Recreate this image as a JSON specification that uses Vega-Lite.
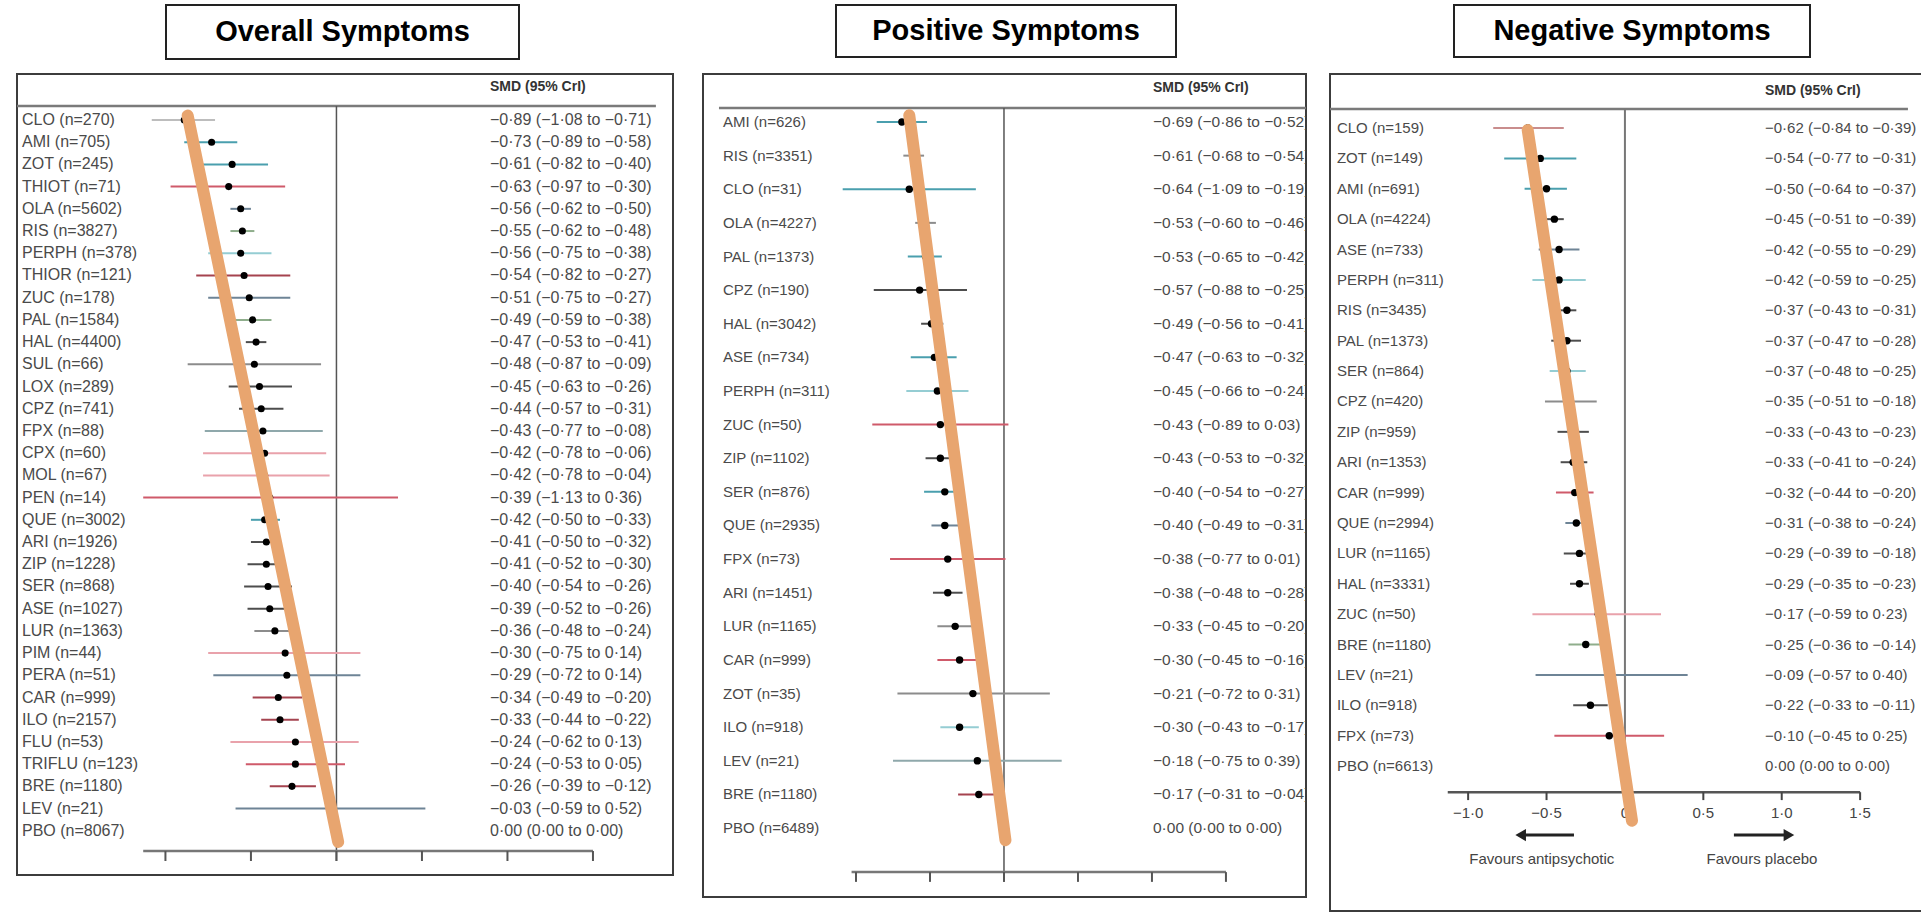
{
  "$schema": "https://vega.github.io/schema/vega-lite/v6.json",
  "background": "white",
  "padding": {"left": 14, "top": 4, "right": 0, "bottom": 0},
  "config": {"font": "Liberation Sans", "view": {"stroke": null}},
  "resolve": {"scale": {"x": "independent", "y": "independent"}},
  "spacing": 13,
  "datasets": {
    "blank": [{}],
    "overall": [
      {"rank": 0, "label": "CLO (n=270)", "smd": -0.89, "lo": -1.08, "hi": -0.71, "ci": "−0·89 (−1·08 to −0·71)", "col": "lightgrey"},
      {"rank": 1, "label": "AMI (n=705)", "smd": -0.73, "lo": -0.89, "hi": -0.58, "ci": "−0·73 (−0·89 to −0·58)", "col": "teal"},
      {"rank": 2, "label": "ZOT (n=245)", "smd": -0.61, "lo": -0.82, "hi": -0.40, "ci": "−0·61 (−0·82 to −0·40)", "col": "teal"},
      {"rank": 3, "label": "THIOT (n=71)", "smd": -0.63, "lo": -0.97, "hi": -0.30, "ci": "−0·63 (−0·97 to −0·30)", "col": "red"},
      {"rank": 4, "label": "OLA (n=5602)", "smd": -0.56, "lo": -0.62, "hi": -0.50, "ci": "−0·56 (−0·62 to −0·50)", "col": "slate"},
      {"rank": 5, "label": "RIS (n=3827)", "smd": -0.55, "lo": -0.62, "hi": -0.48, "ci": "−0·55 (−0·62 to −0·48)", "col": "green"},
      {"rank": 6, "label": "PERPH (n=378)", "smd": -0.56, "lo": -0.75, "hi": -0.38, "ci": "−0·56 (−0·75 to −0·38)", "col": "lightteal"},
      {"rank": 7, "label": "THIOR (n=121)", "smd": -0.54, "lo": -0.82, "hi": -0.27, "ci": "−0·54 (−0·82 to −0·27)", "col": "darkred"},
      {"rank": 8, "label": "ZUC (n=178)", "smd": -0.51, "lo": -0.75, "hi": -0.27, "ci": "−0·51 (−0·75 to −0·27)", "col": "slate"},
      {"rank": 9, "label": "PAL (n=1584)", "smd": -0.49, "lo": -0.59, "hi": -0.38, "ci": "−0·49 (−0·59 to −0·38)", "col": "green"},
      {"rank": 10, "label": "HAL (n=4400)", "smd": -0.47, "lo": -0.53, "hi": -0.41, "ci": "−0·47 (−0·53 to −0·41)", "col": "dark"},
      {"rank": 11, "label": "SUL (n=66)", "smd": -0.48, "lo": -0.87, "hi": -0.09, "ci": "−0·48 (−0·87 to −0·09)", "col": "midgrey"},
      {"rank": 12, "label": "LOX (n=289)", "smd": -0.45, "lo": -0.63, "hi": -0.26, "ci": "−0·45 (−0·63 to −0·26)", "col": "dark"},
      {"rank": 13, "label": "CPZ (n=741)", "smd": -0.44, "lo": -0.57, "hi": -0.31, "ci": "−0·44 (−0·57 to −0·31)", "col": "dark"},
      {"rank": 14, "label": "FPX (n=88)", "smd": -0.43, "lo": -0.77, "hi": -0.08, "ci": "−0·43 (−0·77 to −0·08)", "col": "greyteal"},
      {"rank": 15, "label": "CPX (n=60)", "smd": -0.42, "lo": -0.78, "hi": -0.06, "ci": "−0·42 (−0·78 to −0·06)", "col": "pink"},
      {"rank": 16, "label": "MOL (n=67)", "smd": -0.42, "lo": -0.78, "hi": -0.04, "ci": "−0·42 (−0·78 to −0·04)", "col": "pink"},
      {"rank": 17, "label": "PEN (n=14)", "smd": -0.39, "lo": -1.13, "hi": 0.36, "ci": "−0·39 (−1·13 to 0·36)", "col": "red"},
      {"rank": 18, "label": "QUE (n=3002)", "smd": -0.42, "lo": -0.50, "hi": -0.33, "ci": "−0·42 (−0·50 to −0·33)", "col": "teal"},
      {"rank": 19, "label": "ARI (n=1926)", "smd": -0.41, "lo": -0.50, "hi": -0.32, "ci": "−0·41 (−0·50 to −0·32)", "col": "dark"},
      {"rank": 20, "label": "ZIP (n=1228)", "smd": -0.41, "lo": -0.52, "hi": -0.30, "ci": "−0·41 (−0·52 to −0·30)", "col": "dark"},
      {"rank": 21, "label": "SER (n=868)", "smd": -0.40, "lo": -0.54, "hi": -0.26, "ci": "−0·40 (−0·54 to −0·26)", "col": "dark"},
      {"rank": 22, "label": "ASE (n=1027)", "smd": -0.39, "lo": -0.52, "hi": -0.26, "ci": "−0·39 (−0·52 to −0·26)", "col": "dark"},
      {"rank": 23, "label": "LUR (n=1363)", "smd": -0.36, "lo": -0.48, "hi": -0.24, "ci": "−0·36 (−0·48 to −0·24)", "col": "midgrey"},
      {"rank": 24, "label": "PIM (n=44)", "smd": -0.30, "lo": -0.75, "hi": 0.14, "ci": "−0·30 (−0·75 to 0·14)", "col": "pink"},
      {"rank": 25, "label": "PERA (n=51)", "smd": -0.29, "lo": -0.72, "hi": 0.14, "ci": "−0·29 (−0·72 to 0·14)", "col": "slate"},
      {"rank": 26, "label": "CAR (n=999)", "smd": -0.34, "lo": -0.49, "hi": -0.20, "ci": "−0·34 (−0·49 to −0·20)", "col": "darkred"},
      {"rank": 27, "label": "ILO (n=2157)", "smd": -0.33, "lo": -0.44, "hi": -0.22, "ci": "−0·33 (−0·44 to −0·22)", "col": "darkred"},
      {"rank": 28, "label": "FLU (n=53)", "smd": -0.24, "lo": -0.62, "hi": 0.13, "ci": "−0·24 (−0·62 to 0·13)", "col": "pink"},
      {"rank": 29, "label": "TRIFLU (n=123)", "smd": -0.24, "lo": -0.53, "hi": 0.05, "ci": "−0·24 (−0·53 to 0·05)", "col": "red"},
      {"rank": 30, "label": "BRE (n=1180)", "smd": -0.26, "lo": -0.39, "hi": -0.12, "ci": "−0·26 (−0·39 to −0·12)", "col": "darkred"},
      {"rank": 31, "label": "LEV (n=21)", "smd": -0.03, "lo": -0.59, "hi": 0.52, "ci": "−0·03 (−0·59 to 0·52)", "col": "slate"},
      {"rank": 32, "label": "PBO (n=8067)", "smd": 0, "lo": null, "hi": null, "ci": " 0·00 (0·00 to 0·00)", "col": "dark"}
    ],
    "positive": [
      {"rank": 0, "label": "AMI (n=626)", "smd": -0.69, "lo": -0.86, "hi": -0.52, "ci": "−0·69 (−0·86 to −0·52)", "col": "teal"},
      {"rank": 1, "label": "RIS (n=3351)", "smd": -0.61, "lo": -0.68, "hi": -0.54, "ci": "−0·61 (−0·68 to −0·54)", "col": "midgrey"},
      {"rank": 2, "label": "CLO (n=31)", "smd": -0.64, "lo": -1.09, "hi": -0.19, "ci": "−0·64 (−1·09 to −0·19)", "col": "teal"},
      {"rank": 3, "label": "OLA (n=4227)", "smd": -0.53, "lo": -0.60, "hi": -0.46, "ci": "−0·53 (−0·60 to −0·46)", "col": "midgrey"},
      {"rank": 4, "label": "PAL (n=1373)", "smd": -0.53, "lo": -0.65, "hi": -0.42, "ci": "−0·53 (−0·65 to −0·42)", "col": "teal"},
      {"rank": 5, "label": "CPZ (n=190)", "smd": -0.57, "lo": -0.88, "hi": -0.25, "ci": "−0·57 (−0·88 to −0·25)", "col": "dark"},
      {"rank": 6, "label": "HAL (n=3042)", "smd": -0.49, "lo": -0.56, "hi": -0.41, "ci": "−0·49 (−0·56 to −0·41)", "col": "dark"},
      {"rank": 7, "label": "ASE (n=734)", "smd": -0.47, "lo": -0.63, "hi": -0.32, "ci": "−0·47 (−0·63 to −0·32)", "col": "teal"},
      {"rank": 8, "label": "PERPH (n=311)", "smd": -0.45, "lo": -0.66, "hi": -0.24, "ci": "−0·45 (−0·66 to −0·24)", "col": "lightteal"},
      {"rank": 9, "label": "ZUC (n=50)", "smd": -0.43, "lo": -0.89, "hi": 0.03, "ci": "−0·43 (−0·89 to 0·03)", "col": "red"},
      {"rank": 10, "label": "ZIP (n=1102)", "smd": -0.43, "lo": -0.53, "hi": -0.32, "ci": "−0·43 (−0·53 to −0·32)", "col": "dark"},
      {"rank": 11, "label": "SER (n=876)", "smd": -0.40, "lo": -0.54, "hi": -0.27, "ci": "−0·40 (−0·54 to −0·27)", "col": "teal"},
      {"rank": 12, "label": "QUE (n=2935)", "smd": -0.40, "lo": -0.49, "hi": -0.31, "ci": "−0·40 (−0·49 to −0·31)", "col": "slate"},
      {"rank": 13, "label": "FPX (n=73)", "smd": -0.38, "lo": -0.77, "hi": 0.01, "ci": "−0·38 (−0·77 to 0·01)", "col": "red"},
      {"rank": 14, "label": "ARI (n=1451)", "smd": -0.38, "lo": -0.48, "hi": -0.28, "ci": "−0·38 (−0·48 to −0·28)", "col": "dark"},
      {"rank": 15, "label": "LUR (n=1165)", "smd": -0.33, "lo": -0.45, "hi": -0.20, "ci": "−0·33 (−0·45 to −0·20)", "col": "midgrey"},
      {"rank": 16, "label": "CAR (n=999)", "smd": -0.30, "lo": -0.45, "hi": -0.16, "ci": "−0·30 (−0·45 to −0·16)", "col": "red"},
      {"rank": 17, "label": "ZOT (n=35)", "smd": -0.21, "lo": -0.72, "hi": 0.31, "ci": "−0·21 (−0·72 to 0·31)", "col": "midgrey"},
      {"rank": 18, "label": "ILO (n=918)", "smd": -0.30, "lo": -0.43, "hi": -0.17, "ci": "−0·30 (−0·43 to −0·17)", "col": "lightteal"},
      {"rank": 19, "label": "LEV (n=21)", "smd": -0.18, "lo": -0.75, "hi": 0.39, "ci": "−0·18 (−0·75 to 0·39)", "col": "greyteal"},
      {"rank": 20, "label": "BRE (n=1180)", "smd": -0.17, "lo": -0.31, "hi": -0.04, "ci": "−0·17 (−0·31 to −0·04)", "col": "darkred"},
      {"rank": 21, "label": "PBO (n=6489)", "smd": 0, "lo": null, "hi": null, "ci": " 0·00 (0·00 to 0·00)", "col": "dark"}
    ],
    "negative": [
      {"rank": 0, "label": "CLO (n=159)", "smd": -0.62, "lo": -0.84, "hi": -0.39, "ci": "−0·62 (−0·84 to −0·39)", "col": "rose"},
      {"rank": 1, "label": "ZOT (n=149)", "smd": -0.54, "lo": -0.77, "hi": -0.31, "ci": "−0·54 (−0·77 to −0·31)", "col": "teal"},
      {"rank": 2, "label": "AMI (n=691)", "smd": -0.50, "lo": -0.64, "hi": -0.37, "ci": "−0·50 (−0·64 to −0·37)", "col": "teal"},
      {"rank": 3, "label": "OLA (n=4224)", "smd": -0.45, "lo": -0.51, "hi": -0.39, "ci": "−0·45 (−0·51 to −0·39)", "col": "dark"},
      {"rank": 4, "label": "ASE (n=733)", "smd": -0.42, "lo": -0.55, "hi": -0.29, "ci": "−0·42 (−0·55 to −0·29)", "col": "slate"},
      {"rank": 5, "label": "PERPH (n=311)", "smd": -0.42, "lo": -0.59, "hi": -0.25, "ci": "−0·42 (−0·59 to −0·25)", "col": "lightteal"},
      {"rank": 6, "label": "RIS (n=3435)", "smd": -0.37, "lo": -0.43, "hi": -0.31, "ci": "−0·37 (−0·43 to −0·31)", "col": "dark"},
      {"rank": 7, "label": "PAL (n=1373)", "smd": -0.37, "lo": -0.47, "hi": -0.28, "ci": "−0·37 (−0·47 to −0·28)", "col": "dark"},
      {"rank": 8, "label": "SER (n=864)", "smd": -0.37, "lo": -0.48, "hi": -0.25, "ci": "−0·37 (−0·48 to −0·25)", "col": "lightteal"},
      {"rank": 9, "label": "CPZ (n=420)", "smd": -0.35, "lo": -0.51, "hi": -0.18, "ci": "−0·35 (−0·51 to −0·18)", "col": "midgrey"},
      {"rank": 10, "label": "ZIP (n=959)", "smd": -0.33, "lo": -0.43, "hi": -0.23, "ci": "−0·33 (−0·43 to −0·23)", "col": "dark"},
      {"rank": 11, "label": "ARI (n=1353)", "smd": -0.33, "lo": -0.41, "hi": -0.24, "ci": "−0·33 (−0·41 to −0·24)", "col": "dark"},
      {"rank": 12, "label": "CAR (n=999)", "smd": -0.32, "lo": -0.44, "hi": -0.20, "ci": "−0·32 (−0·44 to −0·20)", "col": "red"},
      {"rank": 13, "label": "QUE (n=2994)", "smd": -0.31, "lo": -0.38, "hi": -0.24, "ci": "−0·31 (−0·38 to −0·24)", "col": "slate"},
      {"rank": 14, "label": "LUR (n=1165)", "smd": -0.29, "lo": -0.39, "hi": -0.18, "ci": "−0·29 (−0·39 to −0·18)", "col": "dark"},
      {"rank": 15, "label": "HAL (n=3331)", "smd": -0.29, "lo": -0.35, "hi": -0.23, "ci": "−0·29 (−0·35 to −0·23)", "col": "dark"},
      {"rank": 16, "label": "ZUC (n=50)", "smd": -0.17, "lo": -0.59, "hi": 0.23, "ci": "−0·17 (−0·59 to 0·23)", "col": "pink"},
      {"rank": 17, "label": "BRE (n=1180)", "smd": -0.25, "lo": -0.36, "hi": -0.14, "ci": "−0·25 (−0·36 to −0·14)", "col": "green"},
      {"rank": 18, "label": "LEV (n=21)", "smd": -0.09, "lo": -0.57, "hi": 0.40, "ci": "−0·09 (−0·57 to 0·40)", "col": "slate"},
      {"rank": 19, "label": "ILO (n=918)", "smd": -0.22, "lo": -0.33, "hi": -0.11, "ci": "−0·22 (−0·33 to −0·11)", "col": "dark"},
      {"rank": 20, "label": "FPX (n=73)", "smd": -0.10, "lo": -0.45, "hi": 0.25, "ci": "−0·10 (−0·45 to 0·25)", "col": "red"},
      {"rank": 21, "label": "PBO (n=6613)", "smd": 0, "lo": null, "hi": null, "ci": " 0·00 (0·00 to 0·00)", "col": "dark"}
    ],
    "ticks": [
      {"t": -1, "lab": "−1·0"}, {"t": -0.5, "lab": "−0·5"}, {"t": 0, "lab": "0"},
      {"t": 0.5, "lab": "0·5"}, {"t": 1, "lab": "1·0"}, {"t": 1.5, "lab": "1·5"}
    ],
    "trend1": [{"smd": -0.87, "rank": -0.2}, {"smd": 0.01, "rank": 32.5}],
    "trend2": [{"smd": -0.64, "rank": -0.2}, {"smd": 0.01, "rank": 21.36}],
    "trend3": [{"smd": -0.62, "rank": 0.07}, {"smd": 0.045, "rank": 22.8}]
  },
  "vconcat": [
    {
      "bounds": "flush",
      "spacing": 0,
      "hconcat": [
        {"width": 149, "height": 54, "data": {"name": "blank"}, "mark": {"type": "text"}, "encoding": {"text": {"value": ""}}},
        {
          "width": 353, "height": 54,
          "view": {"stroke": "#222222", "strokeWidth": 2},
          "data": {"values": [{"t": "Overall Symptoms"}]},
          "mark": {"type": "text", "fontSize": 29, "fontWeight": "bold", "color": "black", "align": "center", "baseline": "middle"},
          "encoding": {"text": {"field": "t"}}
        },
        {"width": 317, "height": 52, "data": {"name": "blank"}, "mark": {"type": "text"}, "encoding": {"text": {"value": ""}}},
        {
          "width": 340, "height": 52,
          "view": {"stroke": "#222222", "strokeWidth": 2},
          "data": {"values": [{"t": "Positive Symptoms"}]},
          "mark": {"type": "text", "fontSize": 29, "fontWeight": "bold", "color": "black", "align": "center", "baseline": "middle"},
          "encoding": {"text": {"field": "t"}}
        },
        {"width": 278, "height": 52, "data": {"name": "blank"}, "mark": {"type": "text"}, "encoding": {"text": {"value": ""}}},
        {
          "width": 356, "height": 52,
          "view": {"stroke": "#222222", "strokeWidth": 2},
          "data": {"values": [{"t": "Negative Symptoms"}]},
          "mark": {"type": "text", "fontSize": 29, "fontWeight": "bold", "color": "black", "align": "center", "baseline": "middle"},
          "encoding": {"text": {"field": "t"}}
        }
      ]
    },
    {
      "bounds": "flush",
      "spacing": 0,
      "hconcat": [
        {
          "width": 656, "height": 801,
          "view": {"stroke": "#3c3c3c", "strokeWidth": 2},
          "layer": [
            {
              "data": {"name": "blank"},
              "mark": {"type": "rule", "color": "#7a7a7a", "strokeWidth": 2.5},
              "encoding": {
                "x": {"datum": -1.868, "type": "quantitative", "scale": {"domain": [-1.868, 1.968], "nice": false, "zero": false}, "axis": null},
                "x2": {"datum": 1.868},
                "y": {"datum": -0.63, "type": "quantitative", "scale": {"domain": [-2.07, 33.99], "reverse": true, "nice": false, "zero": false}, "axis": null}
              }
            },
            {
              "data": {"name": "blank"},
              "mark": {"type": "rule", "color": "#555555", "strokeWidth": 1.5},
              "encoding": {
                "x": {"datum": 0, "type": "quantitative"},
                "y": {"datum": -0.63, "type": "quantitative"},
                "y2": {"datum": 33.36}
              }
            },
            {
              "data": {"name": "blank"},
              "mark": {"type": "rule", "color": "#777777", "strokeWidth": 2.5},
              "encoding": {
                "x": {"datum": -1.13, "type": "quantitative"},
                "x2": {"datum": 1.5},
                "y": {"datum": 32.91, "type": "quantitative"}
              }
            },
            {
              "data": {"name": "ticks"},
              "mark": {"type": "rule", "color": "#555555", "strokeWidth": 2},
              "encoding": {
                "x": {"field": "t", "type": "quantitative"},
                "y": {"datum": 32.91, "type": "quantitative"},
                "y2": {"datum": 33.36}
              }
            },
            {
              "data": {"name": "overall"},
              "transform": [{"filter": "isValid(datum.lo)"}],
              "mark": {"type": "rule", "strokeWidth": 2},
              "encoding": {
                "x": {"field": "lo", "type": "quantitative"},
                "x2": {"field": "hi"},
                "y": {"field": "rank", "type": "quantitative"},
                "color": {"field": "col", "type": "nominal", "legend": null,
                  "scale": {"domain": ["lightgrey", "teal", "lightteal", "red", "darkred", "pink", "dark", "midgrey", "slate", "green", "greyteal", "rose"],
                            "range": ["#bdbdbd", "#4a9fae", "#95cdd3", "#cf5a6a", "#a5434f", "#e9a2ab", "#4d4d4d", "#8c8c8c", "#6e8496", "#8fae8c", "#8fa8ab", "#c98d8d"]}}
              }
            },
            {
              "data": {"name": "overall"},
              "transform": [{"filter": "isValid(datum.lo)"}],
              "mark": {"type": "circle", "color": "black", "opacity": 1, "size": 50},
              "encoding": {
                "x": {"field": "smd", "type": "quantitative"},
                "y": {"field": "rank", "type": "quantitative"}
              }
            },
            {
              "data": {"name": "overall"},
              "mark": {"type": "text", "align": "left", "baseline": "middle", "fontSize": 16, "color": "#4a4a4a"},
              "encoding": {
                "x": {"datum": -1.839, "type": "quantitative"},
                "y": {"field": "rank", "type": "quantitative"},
                "text": {"field": "label"}
              }
            },
            {
              "data": {"name": "overall"},
              "mark": {"type": "text", "align": "left", "baseline": "middle", "fontSize": 16, "color": "#4a4a4a"},
              "encoding": {
                "x": {"datum": 0.898, "type": "quantitative"},
                "y": {"field": "rank", "type": "quantitative"},
                "text": {"field": "ci"}
              }
            },
            {
              "data": {"name": "blank"},
              "mark": {"type": "text", "align": "left", "baseline": "middle", "fontSize": 14, "fontWeight": "bold", "color": "#333333"},
              "encoding": {
                "x": {"datum": 0.898, "type": "quantitative"},
                "y": {"datum": -1.49, "type": "quantitative"},
                "text": {"value": "SMD (95% CrI)"}
              }
            },
            {
              "data": {"name": "trend1"},
              "mark": {"type": "line", "color": "#E8A56F", "strokeWidth": 12, "strokeCap": "round"},
              "encoding": {
                "x": {"field": "smd", "type": "quantitative"},
                "y": {"field": "rank", "type": "quantitative"}
              }
            }
          ]
        },
        {"width": 30, "height": 801, "data": {"name": "blank"}, "mark": {"type": "text"}, "encoding": {"text": {"value": ""}}},
        {
          "width": 603, "height": 823,
          "view": {"stroke": "#3c3c3c", "strokeWidth": 2},
          "layer": [
            {
              "data": {"name": "blank"},
              "mark": {"type": "rule", "color": "#7a7a7a", "strokeWidth": 2.5},
              "encoding": {
                "x": {"datum": -1.926, "type": "quantitative", "scale": {"domain": [-2.034, 2.041], "nice": false, "zero": false}, "axis": null},
                "x2": {"datum": 2.041},
                "y": {"datum": -0.42, "type": "quantitative", "scale": {"domain": [-1.428, 23.05], "reverse": true, "nice": false, "zero": false}, "axis": null}
              }
            },
            {
              "data": {"name": "blank"},
              "mark": {"type": "rule", "color": "#555555", "strokeWidth": 1.5},
              "encoding": {
                "x": {"datum": 0, "type": "quantitative"},
                "y": {"datum": -0.42, "type": "quantitative"},
                "y2": {"datum": 22.6}
              }
            },
            {
              "data": {"name": "blank"},
              "mark": {"type": "rule", "color": "#777777", "strokeWidth": 2.5},
              "encoding": {
                "x": {"datum": -1.03, "type": "quantitative"},
                "x2": {"datum": 1.5},
                "y": {"datum": 22.31, "type": "quantitative"}
              }
            },
            {
              "data": {"name": "ticks"},
              "mark": {"type": "rule", "color": "#555555", "strokeWidth": 2},
              "encoding": {
                "x": {"field": "t", "type": "quantitative"},
                "y": {"datum": 22.31, "type": "quantitative"},
                "y2": {"datum": 22.6}
              }
            },
            {
              "data": {"name": "positive"},
              "transform": [{"filter": "isValid(datum.lo)"}],
              "mark": {"type": "rule", "strokeWidth": 2},
              "encoding": {
                "x": {"field": "lo", "type": "quantitative"},
                "x2": {"field": "hi"},
                "y": {"field": "rank", "type": "quantitative"},
                "color": {"field": "col", "type": "nominal", "legend": null}
              }
            },
            {
              "data": {"name": "positive"},
              "transform": [{"filter": "isValid(datum.lo)"}],
              "mark": {"type": "circle", "color": "black", "opacity": 1, "size": 55},
              "encoding": {
                "x": {"field": "smd", "type": "quantitative"},
                "y": {"field": "rank", "type": "quantitative"}
              }
            },
            {
              "data": {"name": "positive"},
              "mark": {"type": "text", "align": "left", "baseline": "middle", "fontSize": 15, "color": "#4a4a4a"},
              "encoding": {
                "x": {"datum": -1.899, "type": "quantitative"},
                "y": {"field": "rank", "type": "quantitative"},
                "text": {"field": "label"}
              }
            },
            {
              "data": {"name": "positive"},
              "mark": {"type": "text", "align": "left", "baseline": "middle", "fontSize": 15.5, "color": "#4a4a4a", "clip": true},
              "encoding": {
                "x": {"datum": 1.007, "type": "quantitative"},
                "y": {"field": "rank", "type": "quantitative"},
                "text": {"field": "ci"}
              }
            },
            {
              "data": {"name": "blank"},
              "mark": {"type": "text", "align": "left", "baseline": "middle", "fontSize": 14, "fontWeight": "bold", "color": "#333333"},
              "encoding": {
                "x": {"datum": 1.007, "type": "quantitative"},
                "y": {"datum": -1.01, "type": "quantitative"},
                "text": {"value": "SMD (95% CrI)"}
              }
            },
            {
              "data": {"name": "trend2"},
              "mark": {"type": "line", "color": "#E8A56F", "strokeWidth": 12, "strokeCap": "round"},
              "encoding": {
                "x": {"field": "smd", "type": "quantitative"},
                "y": {"field": "rank", "type": "quantitative"}
              }
            }
          ]
        },
        {"width": 24, "height": 801, "data": {"name": "blank"}, "mark": {"type": "text"}, "encoding": {"text": {"value": ""}}},
        {
          "width": 593, "height": 837,
          "view": {"stroke": "#3c3c3c", "strokeWidth": 2},
          "layer": [
            {
              "data": {"name": "blank"},
              "mark": {"type": "rule", "color": "#7a7a7a", "strokeWidth": 2.5},
              "encoding": {
                "x": {"datum": -1.881, "type": "quantitative", "scale": {"domain": [-1.881, 1.901], "nice": false, "zero": false}, "axis": null},
                "x2": {"datum": 1.805},
                "y": {"datum": -0.625, "type": "quantitative", "scale": {"domain": [-1.777, 25.77], "reverse": true, "nice": false, "zero": false}, "axis": null}
              }
            },
            {
              "data": {"name": "blank"},
              "mark": {"type": "rule", "color": "#777777", "strokeWidth": 2},
              "encoding": {
                "x": {"datum": 0, "type": "quantitative"},
                "y": {"datum": -0.625, "type": "quantitative"},
                "y2": {"datum": 22.12}
              }
            },
            {
              "data": {"name": "blank"},
              "mark": {"type": "rule", "color": "#555555", "strokeWidth": 2.5},
              "encoding": {
                "x": {"datum": -1.13, "type": "quantitative"},
                "x2": {"datum": 1.5},
                "y": {"datum": 21.86, "type": "quantitative"}
              }
            },
            {
              "data": {"name": "ticks"},
              "mark": {"type": "rule", "color": "#444444", "strokeWidth": 2},
              "encoding": {
                "x": {"field": "t", "type": "quantitative"},
                "y": {"datum": 21.86, "type": "quantitative"},
                "y2": {"datum": 22.12}
              }
            },
            {
              "data": {"name": "ticks"},
              "mark": {"type": "text", "align": "center", "baseline": "middle", "fontSize": 15, "color": "#444444"},
              "encoding": {
                "x": {"field": "t", "type": "quantitative"},
                "y": {"datum": 22.55, "type": "quantitative"},
                "text": {"field": "lab"}
              }
            },
            {
              "data": {"name": "blank"},
              "mark": {"type": "rule", "color": "#222222", "strokeWidth": 3},
              "encoding": {
                "x": {"datum": -0.66, "type": "quantitative"},
                "x2": {"datum": -0.325},
                "y": {"datum": 23.27, "type": "quantitative"}
              }
            },
            {
              "data": {"name": "blank"},
              "mark": {"type": "point", "shape": "triangle-left", "filled": true, "color": "#222222", "opacity": 1, "size": 150},
              "encoding": {
                "x": {"datum": -0.665, "type": "quantitative"},
                "y": {"datum": 23.27, "type": "quantitative"}
              }
            },
            {
              "data": {"name": "blank"},
              "mark": {"type": "rule", "color": "#222222", "strokeWidth": 3},
              "encoding": {
                "x": {"datum": 0.695, "type": "quantitative"},
                "x2": {"datum": 1.04},
                "y": {"datum": 23.27, "type": "quantitative"}
              }
            },
            {
              "data": {"name": "blank"},
              "mark": {"type": "point", "shape": "triangle-right", "filled": true, "color": "#222222", "opacity": 1, "size": 150},
              "encoding": {
                "x": {"datum": 1.046, "type": "quantitative"},
                "y": {"datum": 23.27, "type": "quantitative"}
              }
            },
            {
              "data": {"values": [{"t": "Favours antipsychotic", "p": -0.53}, {"t": "Favours placebo", "p": 0.874}]},
              "mark": {"type": "text", "align": "center", "baseline": "middle", "fontSize": 15, "color": "#444444"},
              "encoding": {
                "x": {"field": "p", "type": "quantitative"},
                "y": {"datum": 24.06, "type": "quantitative"},
                "text": {"field": "t"}
              }
            },
            {
              "data": {"name": "negative"},
              "transform": [{"filter": "isValid(datum.lo)"}],
              "mark": {"type": "rule", "strokeWidth": 2},
              "encoding": {
                "x": {"field": "lo", "type": "quantitative"},
                "x2": {"field": "hi"},
                "y": {"field": "rank", "type": "quantitative"},
                "color": {"field": "col", "type": "nominal", "legend": null}
              }
            },
            {
              "data": {"name": "negative"},
              "transform": [{"filter": "isValid(datum.lo)"}],
              "mark": {"type": "circle", "color": "black", "opacity": 1, "size": 55},
              "encoding": {
                "x": {"field": "smd", "type": "quantitative"},
                "y": {"field": "rank", "type": "quantitative"}
              }
            },
            {
              "data": {"name": "negative"},
              "mark": {"type": "text", "align": "left", "baseline": "middle", "fontSize": 15, "color": "#4a4a4a"},
              "encoding": {
                "x": {"datum": -1.837, "type": "quantitative"},
                "y": {"field": "rank", "type": "quantitative"},
                "text": {"field": "label"}
              }
            },
            {
              "data": {"name": "negative"},
              "mark": {"type": "text", "align": "left", "baseline": "middle", "fontSize": 15, "color": "#4a4a4a"},
              "encoding": {
                "x": {"datum": 0.893, "type": "quantitative"},
                "y": {"field": "rank", "type": "quantitative"},
                "text": {"field": "ci"}
              }
            },
            {
              "data": {"name": "blank"},
              "mark": {"type": "text", "align": "left", "baseline": "middle", "fontSize": 14, "fontWeight": "bold", "color": "#333333"},
              "encoding": {
                "x": {"datum": 0.893, "type": "quantitative"},
                "y": {"datum": -1.22, "type": "quantitative"},
                "text": {"value": "SMD (95% CrI)"}
              }
            },
            {
              "data": {"name": "trend3"},
              "mark": {"type": "line", "color": "#E8A56F", "strokeWidth": 12, "strokeCap": "round"},
              "encoding": {
                "x": {"field": "smd", "type": "quantitative"},
                "y": {"field": "rank", "type": "quantitative"}
              }
            }
          ]
        }
      ]
    }
  ]
}
